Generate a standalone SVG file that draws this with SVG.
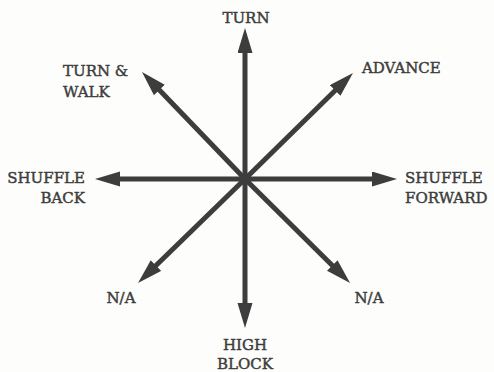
<svg xmlns="http://www.w3.org/2000/svg" width="494" height="372" viewBox="0 0 494 372">
<style>
.lbl{font-family:"DejaVu Serif","Liberation Serif",serif;font-size:15px;fill:#3d3d3d;stroke:#3d3d3d;stroke-width:0.45;}
.ar{stroke:#3d3d3d;stroke-width:5;fill:none;marker-end:url(#head);}
</style>
<defs>
<marker id="head" markerUnits="userSpaceOnUse" markerWidth="26" markerHeight="16" refX="10" refY="7.5" orient="auto" viewBox="0 0 26 16">
<path d="M0,0 L25,7.5 L0,15 Z" fill="#3d3d3d"/>
</marker>
</defs>
<rect width="494" height="372" fill="#fdfdfb"/>
<g id="connectors">
<line class="ar" x1="245" y1="179" x2="245" y2="43"/>
<line class="ar" x1="245" y1="179" x2="245" y2="313"/>
<line class="ar" x1="245" y1="179" x2="110" y2="179"/>
<line class="ar" x1="245" y1="179" x2="382" y2="179"/>
<line class="ar" x1="245" y1="179" x2="342.3" y2="83.5"/>
<line class="ar" x1="245" y1="179" x2="152.4" y2="82.8"/>
<line class="ar" x1="245" y1="179" x2="148.8" y2="272.5"/>
<line class="ar" x1="245" y1="179" x2="339.4" y2="272.5"/>
<circle cx="245" cy="179" r="5" fill="#3d3d3d"/>
</g>
<g id="turn"><text class="lbl" x="246" y="23" text-anchor="middle">TURN</text></g>
<g id="turn-walk"><text class="lbl" x="63" y="76">TURN &amp;</text><text class="lbl" x="63" y="97">WALK</text></g>
<g id="advance"><text class="lbl" x="362" y="73">ADVANCE</text></g>
<g id="shuffle-back"><text class="lbl" x="85" y="183" text-anchor="end">SHUFFLE</text><text class="lbl" x="85" y="203" text-anchor="end">BACK</text></g>
<g id="shuffle-forward"><text class="lbl" x="405" y="183">SHUFFLE</text><text class="lbl" x="405" y="203">FORWARD</text></g>
<g id="na-left"><text class="lbl" x="121" y="303" text-anchor="middle">N/A</text></g>
<g id="na-right"><text class="lbl" x="369" y="303" text-anchor="middle">N/A</text></g>
<g id="high-block"><text class="lbl" x="245" y="350" text-anchor="middle">HIGH</text><text class="lbl" x="245" y="369" text-anchor="middle">BLOCK</text></g>
</svg>
